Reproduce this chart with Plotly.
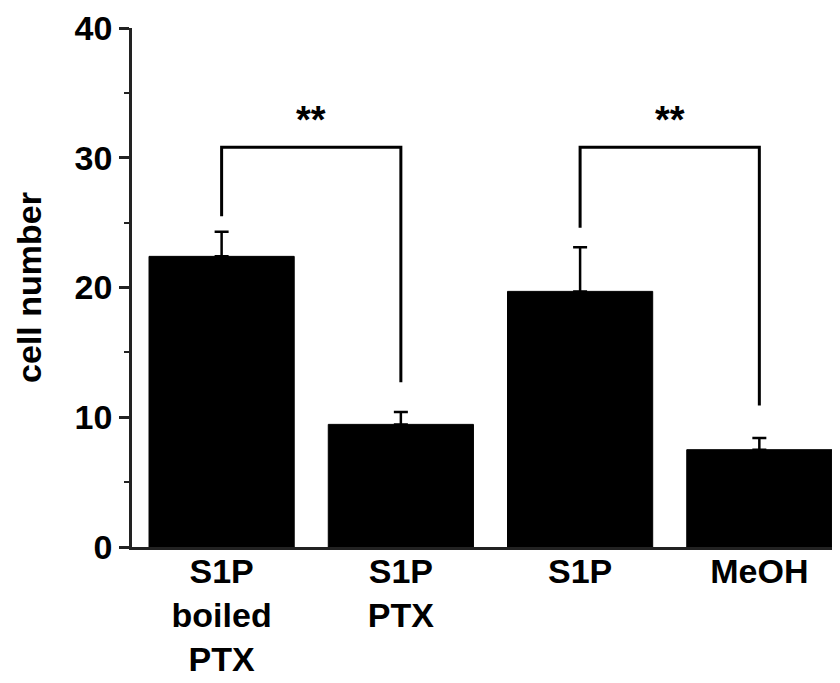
import plotly.graph_objects as go

categories = ["S1P<br>boiled<br>PTX", "S1P<br>PTX", "S1P", "MeOH"]
means = [22.4, 9.45, 19.7, 7.5]
errors = [1.9, 0.95, 3.4, 0.9]
y_ticks = [0, 10, 20, 30, 40]

# significance brackets: left index, right index, top y, left leg bottom, right leg bottom, label
bracket_left = [0, 2]
bracket_right = [1, 3]
bracket_top = [30.8, 30.8]
bracket_left_bottom = [25.5, 24.6]
bracket_right_bottom = [12.7, 10.9]
bracket_labels = ["**", "**"]

FONT = "Liberation Sans, Arial, Helvetica, sans-serif"

fig = go.Figure()
fig.add_trace(go.Bar(
    x=list(range(len(categories))), y=means,
    width=0.81,
    marker=dict(color="black", line=dict(color="black", width=1)),
    error_y=dict(type="data", array=errors, arrayminus=[0] * len(errors),
                 symmetric=False, color="black", thickness=2.5, width=7),
    showlegend=False,
))

for i in range(len(bracket_left)):
    l, r = bracket_left[i], bracket_right[i]
    fig.add_trace(go.Scatter(
        x=[l, l, r, r],
        y=[bracket_left_bottom[i], bracket_top[i], bracket_top[i], bracket_right_bottom[i]],
        mode="lines", line=dict(color="black", width=3),
        showlegend=False, hoverinfo="skip",
    ))
    fig.add_annotation(
        x=(l + r) / 2, y=bracket_top[i], text="<b>" + bracket_labels[i] + "</b>",
        showarrow=False, yanchor="bottom", yshift=4,
        font=dict(family=FONT, size=38, color="black"),
    )

fig.update_layout(
    width=832, height=675,
    margin=dict(l=124, r=0, t=20, b=136, autoexpand=False),
    plot_bgcolor="white", paper_bgcolor="white",
    bargap=0.19,
)
fig.update_xaxes(
    range=[-0.5, 3.45], automargin=False,
    tickmode="array", tickvals=list(range(len(categories))), ticktext=categories,
    showline=True, linecolor="#222", linewidth=2.5,
    ticks="", showgrid=False, zeroline=False, ticklabelstandoff=-8,
    tickfont=dict(family=FONT, size=34, color="black", weight="bold"),
)
fig.update_yaxes(
    range=[0, 40], automargin=False,
    tickmode="array", tickvals=y_ticks,
    showline=True, linecolor="#222", linewidth=2.5,
    ticks="outside", ticklen=10, tickwidth=2.5, tickcolor="#222",
    minor=dict(ticks="outside", ticklen=5, tickwidth=2, tickcolor="#222", dtick=5, showgrid=False),
    showgrid=False, zeroline=False,
    tickfont=dict(family=FONT, size=34, color="black", weight="bold"),
    title=dict(text="cell number", standoff=23,
               font=dict(family=FONT, size=34, color="black", weight="bold")),
)

fig.write_html("out.html")
